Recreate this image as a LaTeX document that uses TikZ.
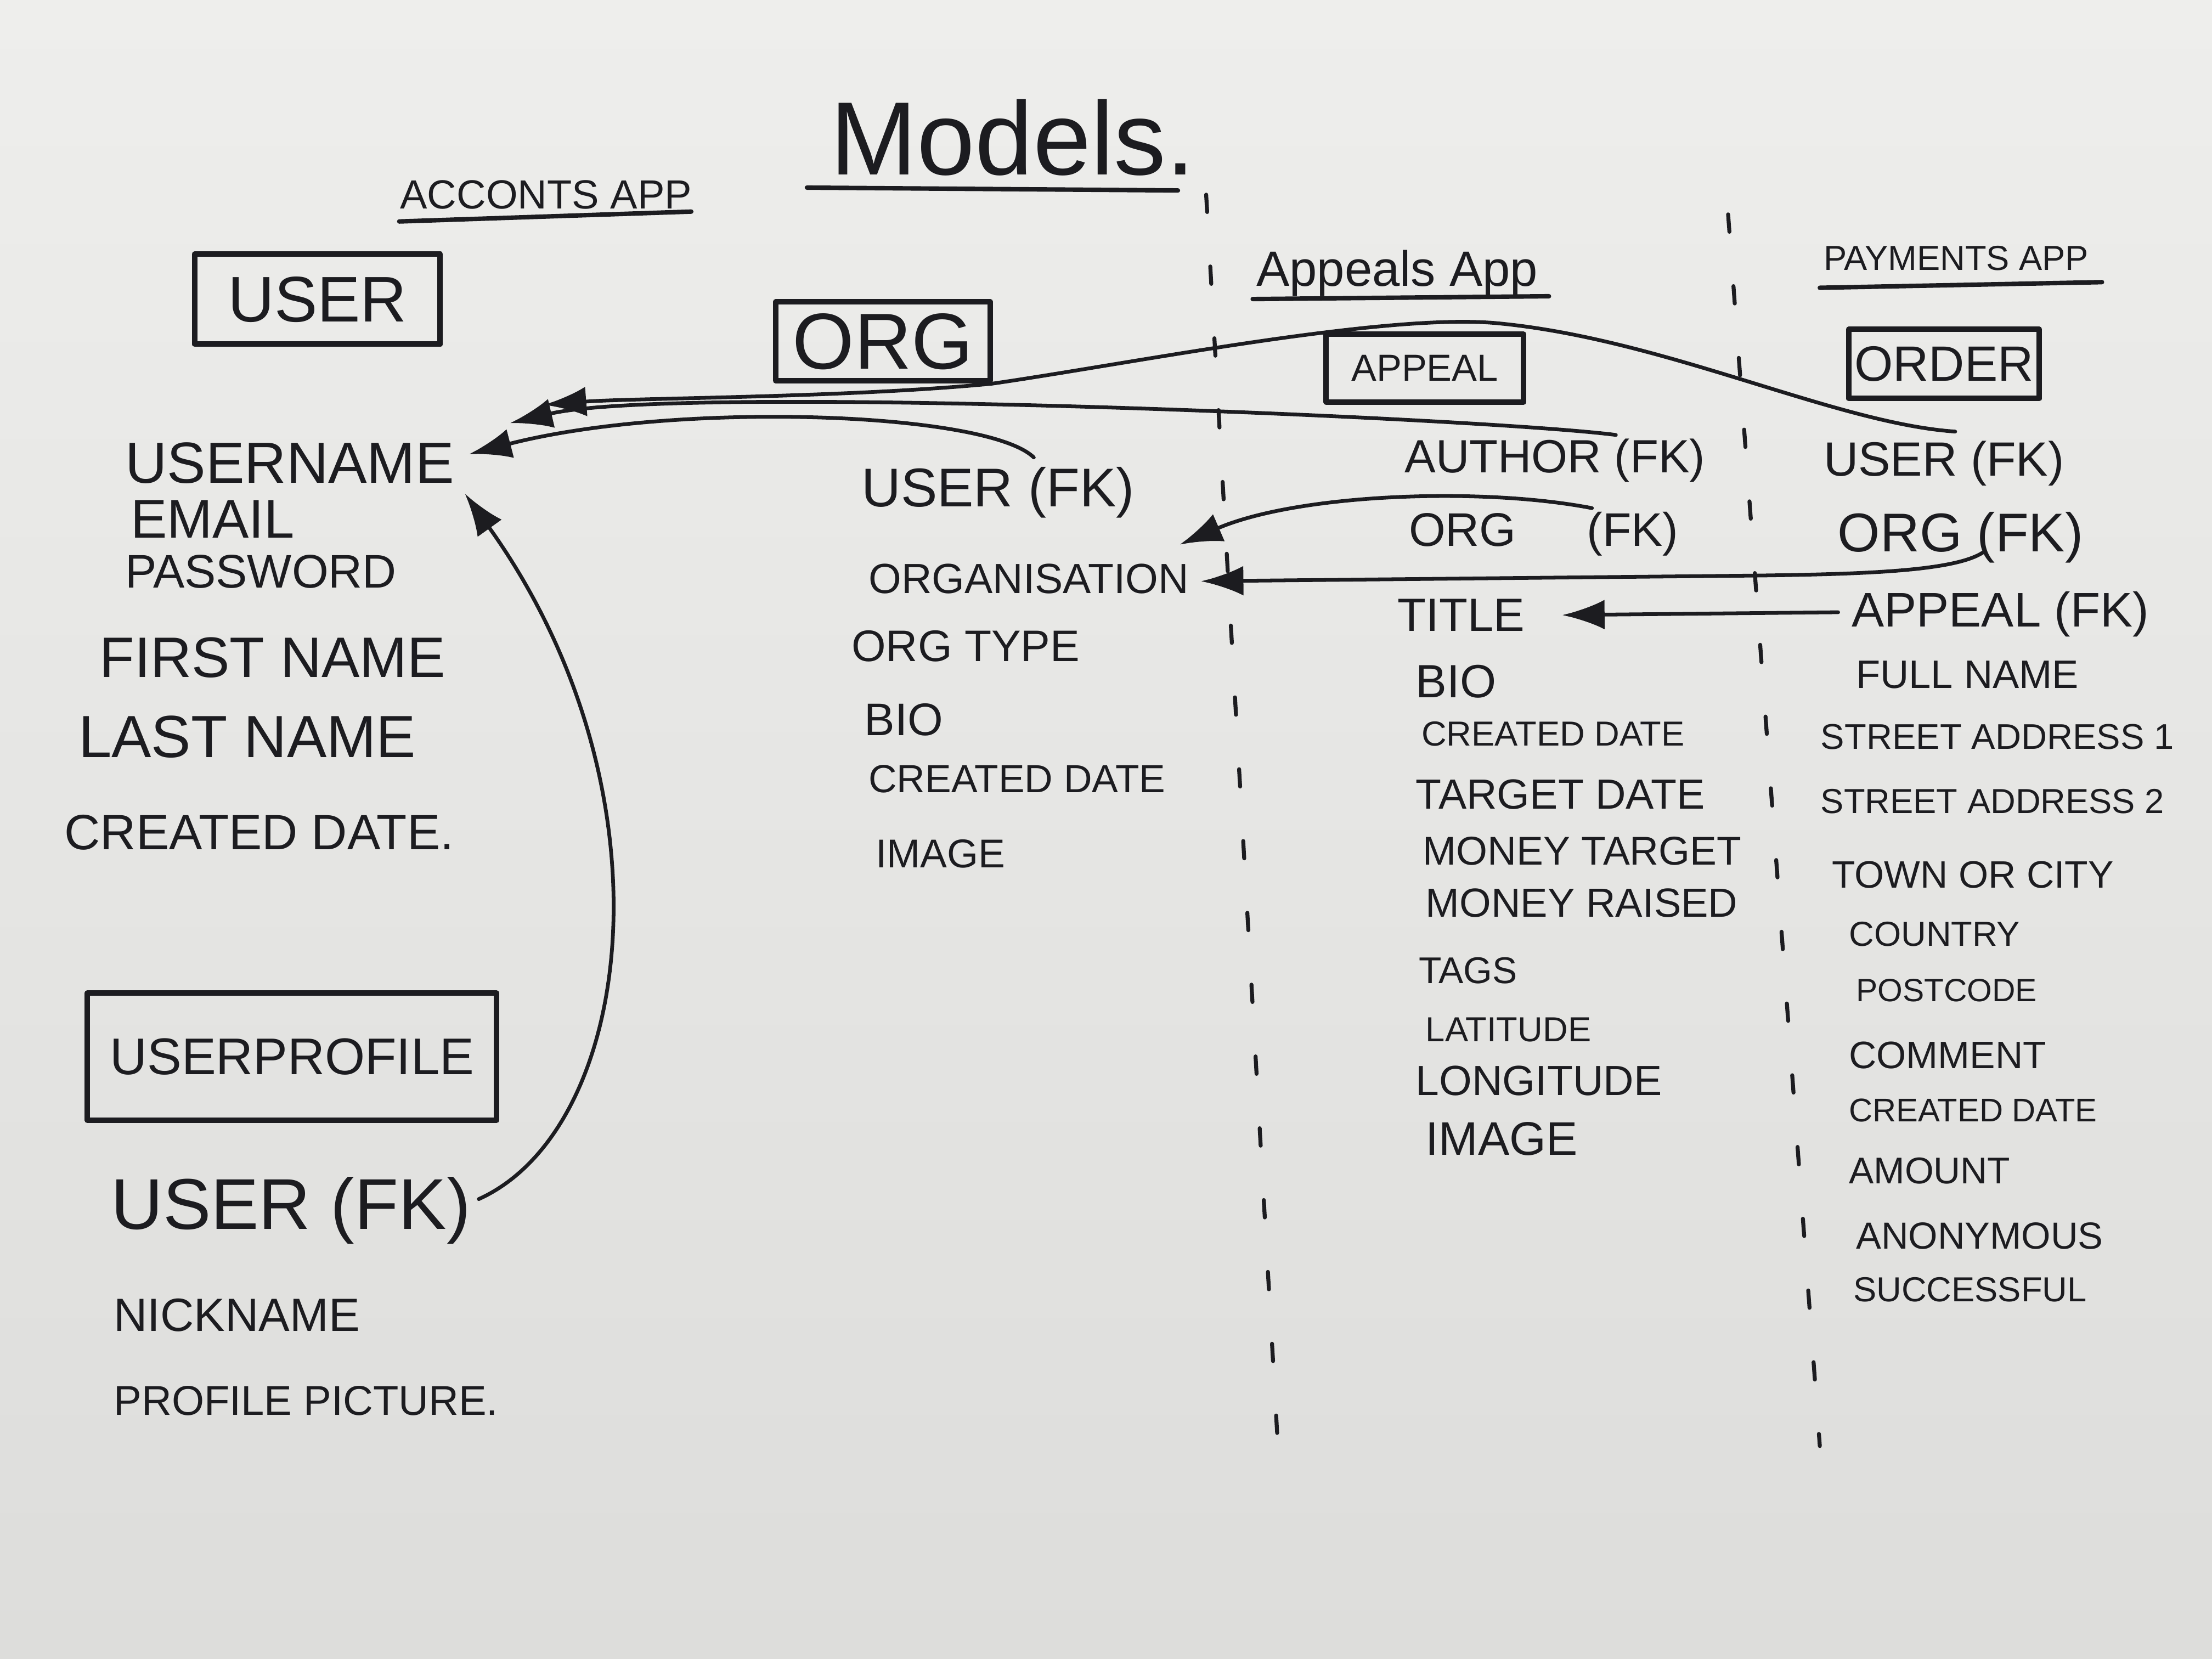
\documentclass[tikz,border=0pt]{standalone}
\usepackage{fontspec}
\setmainfont{Liberation Sans}
\usetikzlibrary{arrows.meta,calc}
\definecolor{ink}{RGB}{28,28,32}
\definecolor{paperTop}{RGB}{238,238,236}
\definecolor{paperBot}{RGB}{221,221,219}

\begin{document}
\begin{tikzpicture}[x=0.01cm, y=-0.01cm, line cap=round, line join=round]
  \tikzset{field/.style = {anchor=west, inner sep=0pt, text depth=0pt, text=ink}}
  \tikzset{sz/.style = {font=\fontsize{#1}{#1}\selectfont}}
  \tikzset{box/.style = {draw=ink, line width=1.1pt, inner sep=0pt, text depth=0pt, text=ink}}
  \tikzset{fk/.style = {draw=ink, line width=0.75pt, -{Latex[length=0.3cm,width=0.21cm]}}}
  \tikzset{split/.style = {draw=ink, line width=0.8pt, dash pattern=on 3.5pt off 11pt}}
  \tikzset{uline/.style = {draw=ink, line width=0.9pt}}

\useasboundingbox (0,0) rectangle (1568,1176);
\shade[top color=paperTop, bottom color=paperBot] (0,0) rectangle (1568,1176);

% titles
\node[field, sz=21] (models) at (588,97) {Models.};
\draw[uline] (572,133) -- (835,135);
\node[field, sz=8.2] (tAcc) at (283,138) {ACCONTS APP};
\draw[uline] (283,157) -- (490,150);
\node[field, sz=10] (tApp) at (890,190) {Appeals App};
\draw[uline] (888,212) -- (1098,210);
\node[field, sz=7] (tPay) at (1292,183) {PAYMENTS APP};
\draw[uline] (1290,204) -- (1490,200);

% app borders
\draw[split] (855,138) -- (907,1045);
\draw[split] (1225,152) -- (1290,1025);

% models
\node[box, sz=13, minimum width=1.74cm, minimum height=0.64cm] (user) at (225,212) {USER};
\node[box, sz=16, minimum width=1.52cm, minimum height=0.56cm] (org) at (626,242) {ORG};
\node[box, sz=7.6, minimum width=1.40cm, minimum height=0.48cm] (appeal) at (1010,261) {APPEAL};
\node[box, sz=10, minimum width=1.35cm, minimum height=0.49cm] (order) at (1378,258) {ORDER};
\node[box, sz=10.4, minimum width=2.90cm, minimum height=0.90cm] (profile) at (207,749) {USERPROFILE};

% user
\node[field, sz=11.7] (uName) at (88,328) {USERNAME};
\node[field, sz=11] (uEmail) at (92,368) {EMAIL};
\node[field, sz=9.5] (uPass) at (88,405) {PASSWORD};
\node[field, sz=11.5] (uFirst) at (70,466) {FIRST NAME};
\node[field, sz=12] (uLast) at (55,522) {LAST NAME};
\node[field, sz=10] (uCreated) at (45,590) {CREATED DATE.};

% user profile
\node[field, sz=14.5] (pUser) at (78,853) {USER (FK)};
\node[field, sz=9.4] (pNick) at (80,932) {NICKNAME};
\node[field, sz=8.4] (pPic) at (80,993) {PROFILE PICTURE.};

% org
\node[field, sz=11] (oUser) at (610,345) {USER (FK)};
\node[field, sz=8.5] (oName) at (615,410) {ORGANISATION};
\node[field, sz=8.9] (oType) at (603,458) {ORG TYPE};
\node[field, sz=9.2] (oBio) at (612,510) {BIO};
\node[field, sz=7.9] (oCreated) at (615,552) {CREATED DATE};
\node[field, sz=8.1] (oImage) at (620,605) {IMAGE};

% appeal
\node[field, sz=9.4] (aAuthor) at (995,323) {AUTHOR (FK)};
\node[field, sz=9.5] (aOrg) at (998,375) {ORG\hspace{0.5cm}(FK)};
\node[field, sz=9.4] (aTitle) at (990,436) {TITLE};
\node[field, sz=9.4] (aBio) at (1003,483) {BIO};
\node[field, sz=7] (aCreated) at (1007,520) {CREATED DATE};
\node[field, sz=8.5] (aTarget) at (1003,563) {TARGET DATE};
\node[field, sz=8.1] (aMoneyT) at (1008,603) {MONEY TARGET};
\node[field, sz=8.2] (aMoneyR) at (1010,640) {MONEY RAISED};
\node[field, sz=7.5] (aTags) at (1005,688) {TAGS};
\node[field, sz=7] (aLat) at (1010,730) {LATITUDE};
\node[field, sz=8.5] (aLon) at (1003,766) {LONGITUDE};
\node[field, sz=9.5] (aImage) at (1010,807) {IMAGE};

% order
\node[field, sz=9.7] (rUser) at (1292,325) {USER (FK)};
\node[field, sz=11] (rOrg) at (1302,377) {ORG (FK)};
\node[field, sz=9.8] (rAppeal) at (1312,432) {APPEAL (FK)};
\node[field, sz=8] (rFull) at (1315,478) {FULL NAME};
\node[field, sz=7.2] (rSt1) at (1290,522) {STREET ADDRESS 1};
\node[field, sz=7] (rSt2) at (1290,568) {STREET ADDRESS 2};
\node[field, sz=7.7] (rTown) at (1298,620) {TOWN OR CITY};
\node[field, sz=7] (rCountry) at (1310,662) {COUNTRY};
\node[field, sz=6.5] (rPost) at (1315,702) {POSTCODE};
\node[field, sz=7.7] (rComment) at (1310,748) {COMMENT};
\node[field, sz=6.6] (rCreated) at (1310,787) {CREATED DATE};
\node[field, sz=7.5] (rAmount) at (1310,830) {AMOUNT};
\node[field, sz=7.6] (rAnon) at (1315,876) {ANONYMOUS};
\node[field, sz=7] (rSucc) at (1313,914) {SUCCESSFUL};

% foreign keys
\draw[fk] ($(rUser.north east)+(-78,-6)$) .. controls (1300,300) and (1180,240) .. (1060,229)
  .. controls (980,222) and (800,258) .. (703,272)
  .. controls (600,282) and (450,282) .. ($(uName.north east)+(63,-26)$);
\draw[fk] ($(aAuthor.north east)+(-64,-2)$) .. controls (1050,296) and (480,272) .. ($(uName.north east)+(39,-13)$);
\draw[fk] ($(oUser.north east)+(-72,-6)$) .. controls (700,292) and (480,284) .. ($(uName.north east)+(10,9)$);
\draw[fk] ($(pUser.east)+(5,-3)$) .. controls (450,800) and (480,560) .. ($(uName.east)+(7,22)$);

\draw[fk] ($(aOrg.north east)+(-62,-2)$) .. controls (1050,345) and (920,350) .. ($(oName.east)+(-7,-24)$);
\draw[fk] ($(rOrg.south east)+(-72,0)$) .. controls (1385,405) and (1320,407) .. (1245,408) -- ($(oName.east)+(8,2)$);
\draw[fk] ($(rAppeal.west)+(-9,2)$) -- ($(aTitle.east)+(26,0)$);

\end{tikzpicture}
\end{document}
